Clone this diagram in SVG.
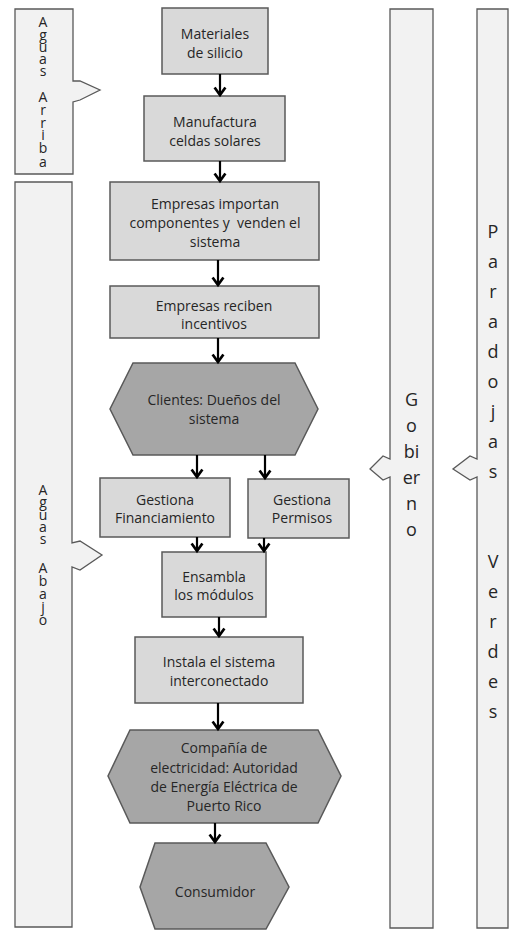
<svg xmlns="http://www.w3.org/2000/svg" width="511" height="935" viewBox="0 0 511 935">
<style>
.panel{fill:#f2f2f2;stroke:#595959;stroke-width:1.3}
.box{fill:#d9d9d9;stroke:#595959;stroke-width:1.5}
.hex{fill:#a6a6a6;stroke:#595959;stroke-width:1.5}
.t{font-family:"Open Sans","Noto Sans",sans-serif;font-size:14px;fill:#262626;text-anchor:middle}
.vs{font-family:"Open Sans","Noto Sans",sans-serif;font-size:14px;fill:#262626;text-anchor:middle}
.vl{font-family:"Open Sans","Noto Sans",sans-serif;font-size:18px;fill:#262626;text-anchor:middle}
.c{fill:none;stroke:#000;stroke-width:2.2}
</style>
<defs>
<marker id="ah" markerUnits="userSpaceOnUse" viewBox="0 0 10 12" markerWidth="10" markerHeight="12" refX="8.5" refY="6" orient="auto" overflow="visible">
<path d="M1,0.6 L8.5,6 L1,11.4" fill="none" stroke="#000" stroke-width="2.7"/>
</marker>
</defs>

<g id="aguas-arriba">
<path class="panel" d="M15,9 H73 V81 L80,81 L100,90 L80,100 L73,102 V174 H15 Z"/>
<text class="vs"><tspan x="43" y="27">A</tspan><tspan x="43" y="40">g</tspan><tspan x="43" y="52">u</tspan><tspan x="43" y="64">a</tspan><tspan x="43" y="76">s</tspan><tspan x="43" y="102">A</tspan><tspan x="43" y="115">r</tspan><tspan x="43" y="128">r</tspan><tspan x="43" y="140">i</tspan><tspan x="43" y="153">b</tspan><tspan x="43" y="167">a</tspan></text>
</g>

<g id="aguas-abajo">
<path class="panel" d="M15,182 H72 V543 L80,541 L102,555 L80,570 L72,567 V927 H15 Z"/>
<text class="vs"><tspan x="43" y="495">A</tspan><tspan x="43" y="507">g</tspan><tspan x="43" y="520">u</tspan><tspan x="43" y="532">a</tspan><tspan x="43" y="544">s</tspan><tspan x="43" y="573">A</tspan><tspan x="43" y="586">b</tspan><tspan x="43" y="599">a</tspan><tspan x="43" y="612">j</tspan><tspan x="43" y="625">o</tspan></text>
</g>

<g id="gobierno">
<path class="panel" d="M390,9 H433 V928 H390 V477 L383,480 L370,469 L383,456 L390,459 Z"/>
<text class="vl"><tspan x="411.5" y="406">G</tspan><tspan x="411.5" y="432">o</tspan><tspan x="411.5" y="458">bi</tspan><tspan x="411.5" y="484">er</tspan><tspan x="411.5" y="510">n</tspan><tspan x="411.5" y="536">o</tspan></text>
</g>

<g id="paradojas-verdes">
<path class="panel" d="M477,9 H508 V928 H477 V477 L470,480 L453,469 L470,456 L477,459 Z"/>
<text class="vl"><tspan x="493" y="238">P</tspan><tspan x="493" y="268">a</tspan><tspan x="493" y="298">r</tspan><tspan x="493" y="328">a</tspan><tspan x="493" y="358">d</tspan><tspan x="493" y="388">o</tspan><tspan x="493" y="418">j</tspan><tspan x="493" y="448">a</tspan><tspan x="493" y="478">s</tspan><tspan x="493" y="568">V</tspan><tspan x="493" y="598">e</tspan><tspan x="493" y="628">r</tspan><tspan x="493" y="658">d</tspan><tspan x="493" y="688">e</tspan><tspan x="493" y="718">s</tspan></text>
</g>

<g id="n1">
<rect class="box" x="162" y="8" width="106" height="66"/>
<text class="t"><tspan x="215" y="39">Materiales</tspan><tspan x="215" y="58">de silicio</tspan></text>
</g>
<g id="n2">
<rect class="box" x="144" y="96" width="141" height="65"/>
<text class="t"><tspan x="215" y="127">Manufactura</tspan><tspan x="215" y="146">celdas solares</tspan></text>
</g>
<g id="n3">
<rect class="box" x="110" y="182" width="209" height="78"/>
<text class="t"><tspan x="215" y="209">Empresas importan</tspan><tspan x="215" y="228" xml:space="preserve">componentes y  venden el</tspan><tspan x="215" y="247">sistema</tspan></text>
</g>
<g id="n4">
<rect class="box" x="110" y="286" width="209" height="52"/>
<text class="t"><tspan x="214" y="311">Empresas reciben</tspan><tspan x="214" y="329">incentivos</tspan></text>
</g>
<g id="n5">
<polygon class="hex" points="133,363 295,363 318,409 295,455 133,455 110,409"/>
<text class="t"><tspan x="214" y="405">Clientes: Dueños del</tspan><tspan x="214" y="424">sistema</tspan></text>
</g>
<g id="n6">
<rect class="box" x="100" y="478" width="130" height="59"/>
<text class="t"><tspan x="165" y="505">Gestiona</tspan><tspan x="165" y="523">Financiamiento</tspan></text>
</g>
<g id="n7">
<rect class="box" x="248" y="479" width="101" height="59"/>
<text class="t"><tspan x="302" y="505">Gestiona</tspan><tspan x="302" y="523">Permisos</tspan></text>
</g>
<g id="n8">
<rect class="box" x="162" y="552" width="104" height="65"/>
<text class="t"><tspan x="214" y="582">Ensambla</tspan><tspan x="214" y="600">los módulos</tspan></text>
</g>
<g id="n9">
<rect class="box" x="135" y="637" width="168" height="66"/>
<text class="t"><tspan x="219" y="667">Instala el sistema</tspan><tspan x="219" y="686">interconectado</tspan></text>
</g>
<g id="n10">
<polygon class="hex" points="130,730 318,730 341,776 318,823 130,823 108,776"/>
<text class="t"><tspan x="224" y="753">Compañía de</tspan><tspan x="224" y="773">electricidad: Autoridad</tspan><tspan x="224" y="792">de Energía Eléctrica de</tspan><tspan x="224" y="811">Puerto Rico</tspan></text>
</g>
<g id="n11">
<polygon class="hex" points="155,843 266,843 289,887 266,929 155,929 140,887"/>
<text class="t"><tspan x="215" y="897">Consumidor</tspan></text>
</g>

<g id="connectors">
<line class="c" x1="220" y1="74" x2="220" y2="95" marker-end="url(#ah)"/>
<line class="c" x1="220" y1="161" x2="220" y2="181" marker-end="url(#ah)"/>
<line class="c" x1="218" y1="260" x2="218" y2="285" marker-end="url(#ah)"/>
<line class="c" x1="218" y1="338" x2="218" y2="362" marker-end="url(#ah)"/>
<line class="c" x1="197" y1="455" x2="197" y2="477" marker-end="url(#ah)"/>
<line class="c" x1="265" y1="455" x2="265" y2="478" marker-end="url(#ah)"/>
<line class="c" x1="197" y1="537" x2="197" y2="551" marker-end="url(#ah)"/>
<line class="c" x1="264" y1="538" x2="264" y2="551" marker-end="url(#ah)"/>
<line class="c" x1="219" y1="617" x2="219" y2="636" marker-end="url(#ah)"/>
<line class="c" x1="218" y1="703" x2="218" y2="729" marker-end="url(#ah)"/>
<line class="c" x1="215" y1="823" x2="215" y2="842" marker-end="url(#ah)"/>
</g>
</svg>
